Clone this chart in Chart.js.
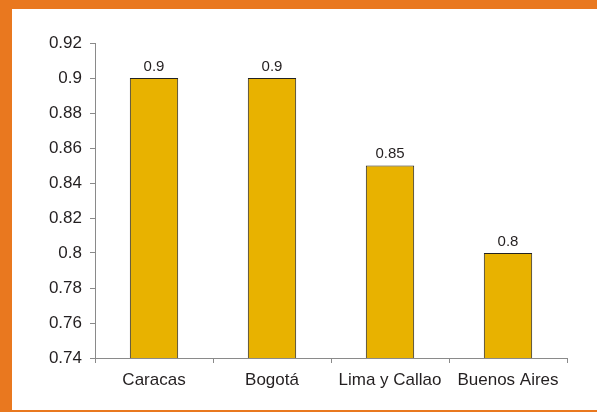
<!DOCTYPE html>
<html>
<head>
<meta charset="utf-8">
<script src="https://cdn.jsdelivr.net/npm/chart.js@4.4.0/dist/chart.umd.min.js"></script>
<style>
  html, body { margin: 0; padding: 0; background: #fff; }
  #frame {
    width: 597px; height: 412px; box-sizing: border-box;
    border-top: 9px solid #E9781F;
    border-left: 12px solid #E9781F;
    border-bottom: 2px solid #E9781F;
    background: #fff;
  }
  #chart { display: block; }
</style>
</head>
<body>
<div id="frame"><canvas id="chart" width="585" height="401"></canvas></div>
<script>
// data
const cities = ['Caracas', 'Bogotá', 'Lima y Callao', 'Buenos Aires'];
const values = [0.9, 0.9, 0.85, 0.8];
const yTicks = [0.74, 0.76, 0.78, 0.8, 0.82, 0.84, 0.86, 0.88, 0.9, 0.92];

const textColor = '#231F20';
const axisColor = '#8a8a8a';

// draws the value above each bar
const valueLabels = {
  id: 'valueLabels',
  afterDatasetsDraw(chart) {
    const ctx = chart.ctx;
    const meta = chart.getDatasetMeta(0);
    ctx.save();
    ctx.font = '15px "Liberation Sans", Arial, sans-serif';
    ctx.fillStyle = textColor;
    ctx.textAlign = 'center';
    ctx.textBaseline = 'bottom';
    meta.data.forEach((bar, i) => {
      ctx.fillText(String(values[i]), bar.x, bar.y - 4);
    });
    ctx.restore();
  }
};

Chart.defaults.font.family = '"Liberation Sans", Arial, sans-serif';
Chart.defaults.color = textColor;

new Chart(document.getElementById('chart'), {
  type: 'bar',
  data: {
    labels: cities,
    datasets: [{
      data: values,
      backgroundColor: '#E8B200',
      borderColor: '#222',
      borderWidth: 1,
      borderSkipped: false,
      categoryPercentage: 1,
      barPercentage: 0.41
    }]
  },
  options: {
    responsive: false,
    animation: false,
    layout: { padding: { top: 34, right: 30, left: 0, bottom: 0 } },
    plugins: {
      legend: { display: false },
      tooltip: { enabled: false }
    },
    scales: {
      x: {
        offset: true,
        grid: { offset: true, drawOnChartArea: false, tickLength: 5, color: axisColor },
        border: { color: axisColor },
        ticks: { font: { size: 17 }, color: textColor, padding: 7, maxRotation: 0, autoSkip: false },
        afterFit(scale) { scale.height = 52; }
      },
      y: {
        min: yTicks[0],
        max: yTicks[yTicks.length - 1],
        afterBuildTicks(scale) { scale.ticks = yTicks.map(v => ({ value: v })); },
        grid: { drawOnChartArea: false, tickLength: 5, color: axisColor },
        border: { color: axisColor },
        ticks: {
          font: { size: 17 }, color: textColor, padding: 8,
          callback: v => String(Number(v.toFixed(2)))
        },
        afterFit(scale) { scale.width = 83; }
      }
    }
  },
  plugins: [valueLabels]
});
</script>
</body>
</html>
